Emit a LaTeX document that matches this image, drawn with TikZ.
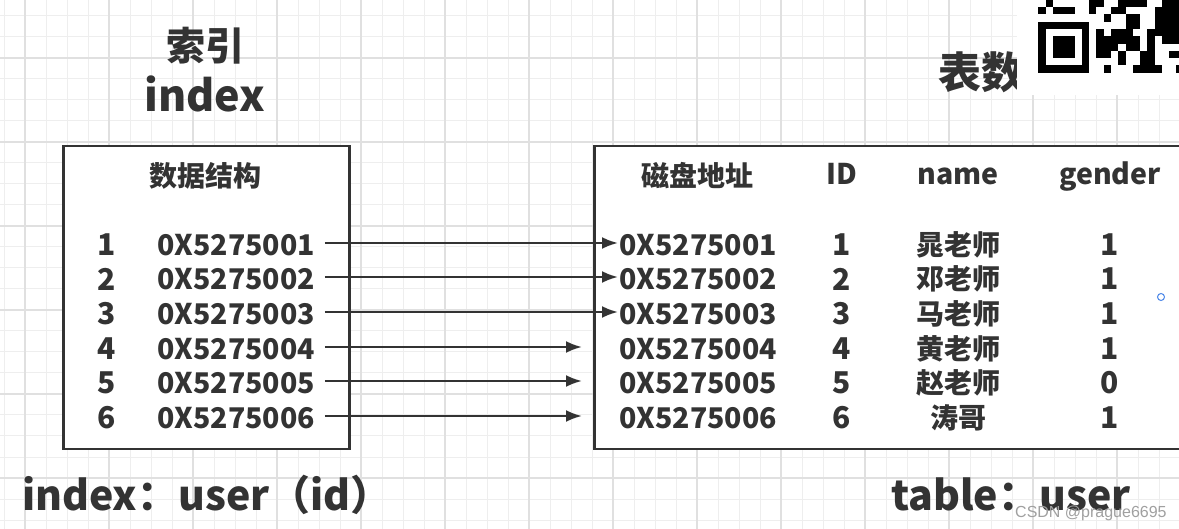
\documentclass[tikz,border=0pt]{standalone}
\usepackage{fontspec}
\setmainfont{Noto Sans CJK SC}
\newfontfamily\wmfont{Liberation Sans}
\usetikzlibrary{arrows.meta}
\definecolor{ink}{HTML}{333333}
\definecolor{gridminor}{HTML}{EEEEEE}
\definecolor{gridmajor}{HTML}{E0E0E0}
\definecolor{wmgray}{HTML}{A0A0A0}
\definecolor{dotblue}{HTML}{4A86E8}
\newcommand{\fs}[1]{\fontsize{#1}{#1}\selectfont}
\tikzset{
  txt/.style={text=ink, inner sep=0pt, font=\bfseries\fs{30}},
  hex/.style={text=ink, inner sep=0pt, font=\bfseries\fs{28.5}},
  hdr/.style={text=ink, inner sep=0pt, font=\bfseries\fs{28.5}, anchor=base},
  cjk/.style={text=ink, inner sep=0pt, font=\bfseries\fs{28}},
  big/.style={text=ink, inner sep=0pt, font=\bfseries\fs{41}, anchor=base west},
  tablebox/.style={draw=ink, fill=white, line width=2.5pt, inner sep=0pt, anchor=north west},
  link/.style={draw=ink, line width=2.4pt, -{Latex[length=16pt,width=12pt]}},
  qr/.style={fill=black},
}
\begin{document}
\begin{tikzpicture}[x=1pt,y=-1pt]
\useasboundingbox (0,0) rectangle (1179,529);
\fill[white] (0,0) rectangle (1179,529);
% grid
\foreach \x in {4,25,...,1179} \draw[gridminor, line width=1pt] (\x,0) -- (\x,529);
\foreach \y in {16,37,...,529} \draw[gridminor, line width=1pt] (0,\y) -- (1179,\y);
\foreach \x in {25,109,...,1179} \draw[gridmajor, line width=1.2pt] (\x,0) -- (\x,529);
\foreach \y in {58,142,...,529} \draw[gridmajor, line width=1.2pt] (0,\y) -- (1179,\y);

% titles
\node[text=ink, inner sep=0pt, font=\bfseries\fs{39}] (tsy) at (205,46) {索引};
\node[text=ink, inner sep=0pt, font=\bfseries\fs{43}, anchor=base] (tidx) at (205,112) {index};
\node[text=ink, inner sep=0pt, font=\bfseries\fs{43}, anchor=west] (tsj) at (938,72) {表数};

% boxes
\node[tablebox, minimum width=286pt, minimum height=303pt] (lbox) at (62,145) {};
\node[tablebox, minimum width=640pt, minimum height=303pt] (rbox) at (593,145) {};

% left header
\node[cjk] (lh) at (205,176) {数据结构};
% right headers
\node[cjk] (rh1) at (697,176) {磁盘地址};
\node[hdr] (rh2) at (842,185) {ID};
\node[hdr] (rh3) at (958,185) {name};
\node[hdr] (rh4) at (1110,185) {gender};

% rows
\foreach \i/\y/\nm/\g in {1/245/晁老师/1, 2/279/邓老师/1, 3/314/马老师/1, 4/349/黄老师/1, 5/383/赵老师/0, 6/418/涛哥/1} {
  \node[txt] (n\i) at (107,\y) {\i};
  \node[hex] (h\i) at (236,\y) {0X527500\i};
  \node[hex] (r\i) at (698,\y) {0X527500\i};
  \node[txt] (id\i) at (842,\y) {\i};
  \node[cjk] (nm\i) at (958,\y) {\nm};
  \node[txt] (g\i) at (1110,\y) {\g};
}
% connectors
\foreach \i in {1,2,3}
  \draw[link] ([xshift=10pt,yshift=2pt]h\i.east) -- ([xshift=-1pt,yshift=2pt]r\i.west);
\foreach \i in {4,5,6}
  \draw[link] ([xshift=10pt,yshift=2pt]h\i.east) -- ([xshift=-37pt,yshift=2pt]r\i.west);

% bottom labels
\node[big] (lbl1) at (22,510) {index：user（id）};
\node[big] (lbl2) at (891,510) {table：user};

% QR fragment
\fill[white] (1017,0) rectangle (1179,95);
\begin{scope}[shift={(1038.3,21.7)}, x=7.27pt, y=-7.27pt]
  \fill (0,0) rectangle (7,7);
  \fill[white] (1,1) rectangle (6,6);
  \fill (2,2) rectangle (5,5);
  \foreach \c/\r in {1/-3,7/-3,8/-3,11/-3,12/-3,13/-3,14/-3,17/-3,18/-3,19/-3,
    0/-2,2/-2,3/-2,4/-2,7/-2,10/-2,11/-2,16/-2,17/-2,18/-2,19/-2,
    9/-1,12/-1,13/-1,16/-1,17/-1,18/-1,19/-1,
    12/0,13/0,16/0,17/0,18/0,19/0,
    8/1,10/1,11/1,12/1,15/1,16/1,17/1,18/1,19/1,
    8/2,9/2,10/2,11/2,12/2,13/2,15/2,17/2,18/2,19/2,
    8/3,9/3,10/3,12/3,13/3,15/3,
    8/4,9/4,11/4,14/4,15/4,18/4,19/4,
    11/5,14/5,15/5,
    9/6,13/6,14/6,15/6,16/6,19/6}
    \fill[qr] (\c,\r) rectangle ++(1,1);
\end{scope}

% small blue marker
\draw[dotblue, line width=1pt] (1161,297) circle (3.5pt);

% watermark
\node[text=wmgray, inner sep=0pt, font=\wmfont\fs{16}, anchor=base west] (wm) at (1015,517) {CSDN @prague6695};
\end{tikzpicture}
\end{document}
